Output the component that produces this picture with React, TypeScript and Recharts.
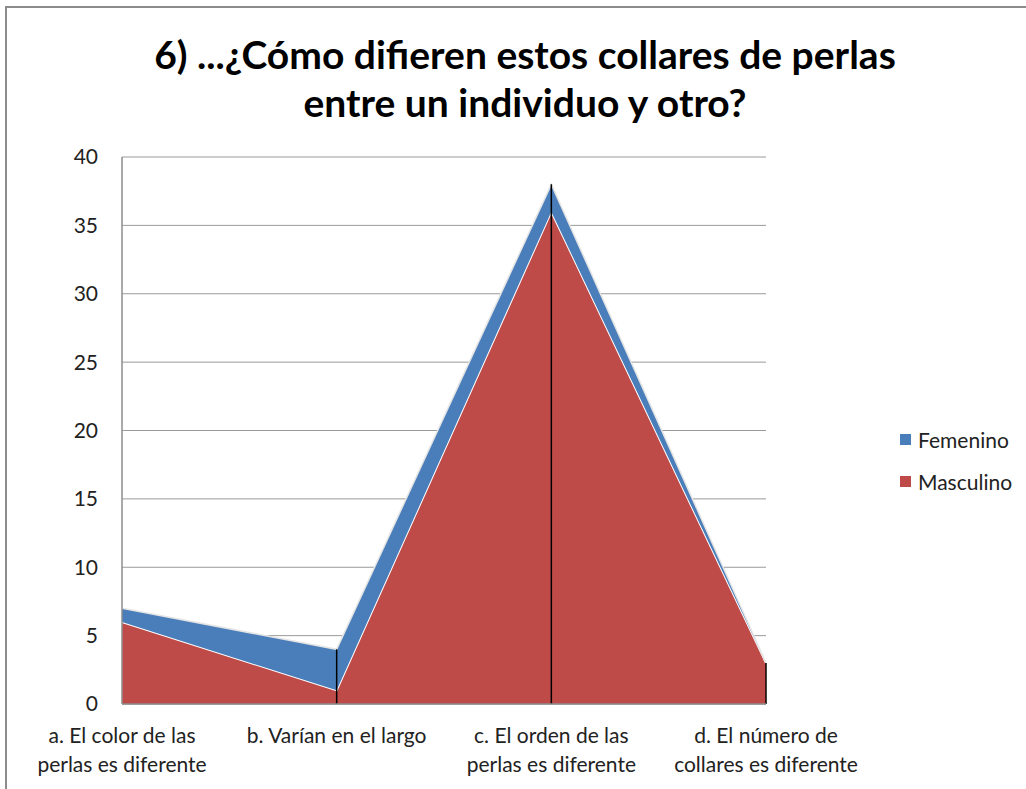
import React from "react";
import {
  AreaChart,
  Area,
  XAxis,
  YAxis,
  CartesianGrid,
  ReferenceLine,
} from "recharts";

const categories = [
  "a. El color de las perlas es diferente",
  "b. Varían en el largo",
  "c. El orden de las perlas es diferente",
  "d. El número de collares es diferente",
];
const tickLines: string[][] = [
  ["a. El color de las", "perlas es diferente"],
  ["b. Varían en el largo"],
  ["c. El orden de las", "perlas es diferente"],
  ["d. El número de", "collares es diferente"],
];
const masculino = [6, 1, 36, 3];
const femenino = [1, 3, 2, 0];
const yTicks = [0, 5, 10, 15, 20, 25, 30, 35, 40];

const data = categories.map((c, i) => ({
  cat: c,
  Masculino: masculino[i],
  Femenino: femenino[i],
  total: masculino[i] + femenino[i],
}));

const FONT = "Lato, 'Noto Sans', sans-serif";
const BLUE = "#4A7EBB";
const RED = "#BE4B48";

const XTick = (props: any) => {
  const { x, y, payload } = props;
  const idx = categories.indexOf(payload.value);
  const lines = tickLines[idx] || [payload.value];
  return (
    <g transform={`translate(${x},${y})`}>
      {lines.map((l, i) => (
        <text
          key={i}
          x={0}
          y={31 + i * 29}
          textAnchor="middle"
          fontFamily={FONT}
          fontSize={21}
          fill="#222"
        >
          {l}
        </text>
      ))}
    </g>
  );
};

export default function App() {
  return (
    <div
      style={{
        position: "absolute",
        left: 0,
        top: 0,
        width: 1026,
        height: 789,
        background: "#fff",
        overflow: "hidden",
        fontFamily: FONT,
      }}
    >
      <div
        style={{
          position: "absolute",
          left: 5,
          top: 6,
          width: 1100,
          height: 900,
          borderLeft: "2px solid #8c8c8c",
          borderTop: "2px solid #8c8c8c",
        }}
      />
      <div
        style={{
          position: "absolute",
          left: 0,
          width: 1050,
          top: 30,
          textAlign: "center",
          fontWeight: 700,
          fontSize: 39,
          lineHeight: "48px",
          color: "#000",
        }}
      >
        6) ...¿Cómo difieren estos collares de perlas
        <br />
        entre un individuo y otro?
      </div>
      <div style={{ position: "absolute", left: 0, top: 0 }}>
        <AreaChart
          width={1026}
          height={789}
          data={data}
          margin={{ top: 157, right: 260, bottom: 55, left: 0 }}
        >
          <CartesianGrid
            vertical={false}
            stroke="#9a9a9a"
            strokeWidth={1}
          />
          <XAxis
            dataKey="cat"
            interval={0}
            height={30}
            tick={<XTick />}
            tickLine={false}
            axisLine={{ stroke: "#8c8c8c", strokeWidth: 1.5 }}
            padding={{ left: 0, right: 0 }}
          />
          <YAxis
            width={122}
            domain={[0, 40]}
            ticks={yTicks}
            tickLine={false}
            axisLine={{ stroke: "#8c8c8c", strokeWidth: 1.5 }}
            tick={{ fontFamily: FONT, fontSize: 21, fill: "#222" }}
            tickMargin={18}
          />
          <Area
            type="linear"
            dataKey="Masculino"
            stackId="1"
            fill={RED}
            fillOpacity={1}
            stroke="#ffffff"
            strokeWidth={2}
            isAnimationActive={false}
          />
          <Area
            type="linear"
            dataKey="Femenino"
            stackId="1"
            fill={BLUE}
            fillOpacity={1}
            stroke="#e4e4e4"
            strokeWidth={1.5}
            isAnimationActive={false}
          />
          {data
            .filter((_, i) => i > 0)
            .map((d) => (
              <ReferenceLine
                key={d.cat}
                segment={[
                  { x: d.cat, y: 0 },
                  { x: d.cat, y: d.total },
                ]}
                stroke="#000"
                strokeWidth={1.5}
              />
            ))}
        </AreaChart>
      </div>
      <div
        style={{
          position: "absolute",
          left: 900,
          top: 418,
          fontSize: 21,
          color: "#222",
        }}
      >
        {[
          { name: "Femenino", color: BLUE },
          { name: "Masculino", color: RED },
        ].map((e) => (
          <div
            key={e.name}
            style={{ display: "flex", alignItems: "center", height: 42 }}
          >
            <span
              style={{
                display: "inline-block",
                width: 11,
                height: 11,
                background: e.color,
                marginRight: 7,
              }}
            />
            {e.name}
          </div>
        ))}
      </div>
    </div>
  );
}
